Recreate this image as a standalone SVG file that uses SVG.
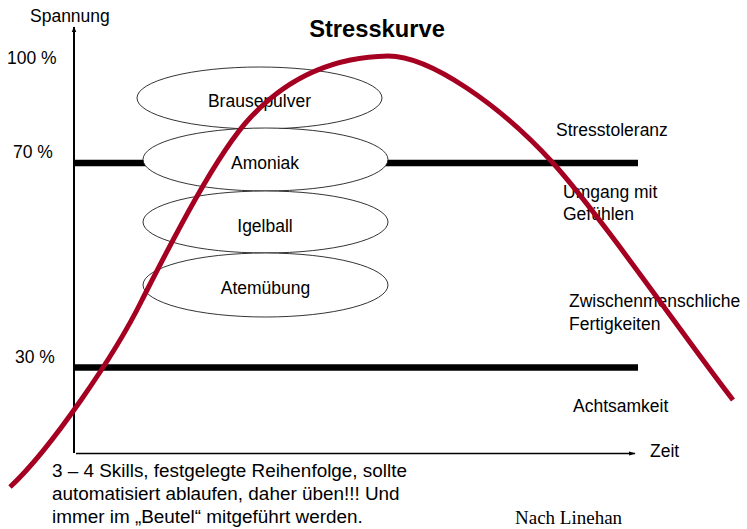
<svg xmlns="http://www.w3.org/2000/svg" width="747" height="529" viewBox="0 0 747 529">
<style>
text{font-family:"Liberation Sans",Arial,Helvetica,sans-serif;font-size:17.5px;fill:#000}
.c{text-anchor:middle}
.title{font-size:23.7px;font-weight:bold}
.note{font-size:18.9px}
.src{font-family:"Liberation Serif","Times New Roman",serif;font-size:19px}
.ell{fill:#fff;stroke:#000;stroke-width:0.8}
.lvl{stroke:#000;stroke-width:6.5}
.curve{fill:none;stroke:#a50021;stroke-width:5;stroke-linecap:butt}
</style>
<defs>
<marker id="ah" viewBox="0 0 10 10" refX="9" refY="5" markerWidth="6" markerHeight="6" markerUnits="userSpaceOnUse" orient="auto">
<path d="M0,1 L10,5 L0,9 z" fill="#000"/>
</marker>
<marker id="ahs" viewBox="0 0 10 10" refX="9" refY="5" markerWidth="7" markerHeight="7" markerUnits="userSpaceOnUse" orient="auto">
<path d="M0,2 L10,5 L0,8 z" fill="#000"/>
</marker>
</defs>
<rect width="747" height="529" fill="#fff"/>
<g id="axes">
<line x1="74" y1="453" x2="74" y2="27" stroke="#000" stroke-width="2" marker-end="url(#ah)"/>
<line x1="76" y1="453.5" x2="635" y2="453.5" stroke="#000" stroke-width="1.3" marker-end="url(#ahs)"/>
<text x="30" y="22">Spannung</text>
<text x="650" y="457">Zeit</text>
<text x="7" y="64">100 %</text>
<text x="13" y="158">70 %</text>
<text x="15" y="363">30 %</text>
</g>
<g id="levels">
<line class="lvl" x1="74" y1="163" x2="638" y2="163"/>
<line class="lvl" x1="74" y1="367.5" x2="638" y2="367.5"/>
</g>
<text class="title c" x="377" y="37">Stresskurve</text>
<g id="brausepulver"><ellipse class="ell" cx="259.5" cy="98" rx="122.5" ry="31"/><text class="c" x="259.5" y="107">Brausepulver</text></g>
<g id="amoniak"><ellipse class="ell" cx="265.5" cy="159.5" rx="122.5" ry="31.5"/><text class="c" x="265" y="169">Amoniak</text></g>
<g id="igelball"><ellipse class="ell" cx="265.5" cy="222" rx="122.5" ry="31"/><text class="c" x="265" y="232">Igelball</text></g>
<g id="atemuebung"><ellipse class="ell" cx="265.5" cy="285" rx="122.5" ry="32"/><text class="c" x="265.5" y="294">Atemübung</text></g>
<g id="labels">
<text x="556" y="136">Stresstoleranz</text>
<text x="563" y="198">Umgang mit</text>
<text x="563" y="219.5">Gefühlen</text>
<text x="569" y="307">Zwischenmenschliche</text>
<text x="569" y="330">Fertigkeiten</text>
<text x="573" y="412">Achtsamkeit</text>
</g>
<g id="note">
<text class="note" x="52" y="477">3 – 4 Skills, festgelegte Reihenfolge, sollte</text>
<text class="note" x="52" y="500">automatisiert ablaufen, daher üben!!! Und</text>
<text class="note" x="52" y="523">immer im „Beutel“ mitgeführt werden.</text>
<text class="src" x="515" y="524">Nach Linehan</text>
</g>
<g id="connectors">
<path class="curve" d="M10,487 C50,450 115,355 142,300 C165,255 215,155 250,118 C285,80 330,57 388,56 C430,56 500,105 553,163 C600,215 690,345 733,400"/>
</g>
</svg>
